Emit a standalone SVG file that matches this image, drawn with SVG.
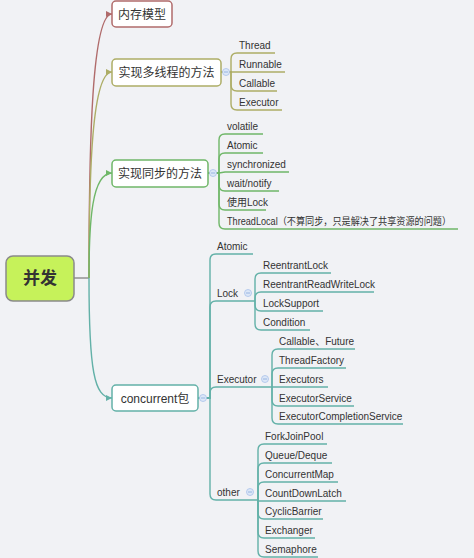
<svg xmlns="http://www.w3.org/2000/svg" width="474" height="558" viewBox="0 0 474 558">
<defs>
<style>
.bg{fill:#f1f2f5}
.t{font-family:"Liberation Sans","Noto Sans CJK SC",sans-serif;font-size:10px;fill:#333}
.nt{font-family:"Liberation Sans","Noto Sans CJK SC",sans-serif;font-size:12px;fill:#333;text-anchor:middle}
.rt{font-family:"Noto Sans CJK SC","Liberation Sans",sans-serif;font-size:17px;font-weight:bold;fill:#333;text-anchor:middle}
.box{fill:#fff;stroke-width:1.5}
.ln{fill:none;stroke-width:1.4}
.red{stroke:#b06b6b}
.olv{stroke:#adad66}
.grn{stroke:#6fb768}
.tea{stroke:#63b1a8}
.btn{fill:#dce7f7;stroke:#a9c2ea;stroke-width:0.8}
.btnm{stroke:#86a8dc;stroke-width:0.8}
</style>
<marker id="aR" viewBox="0 0 6 6" refX="6" refY="3" markerWidth="6" markerHeight="6" markerUnits="userSpaceOnUse" orient="auto"><path d="M0,0 L6,3 L0,6 z" fill="#b06b6b"/></marker>
<marker id="aO" viewBox="0 0 6 6" refX="6" refY="3" markerWidth="6" markerHeight="6" markerUnits="userSpaceOnUse" orient="auto"><path d="M0,0 L6,3 L0,6 z" fill="#adad66"/></marker>
<marker id="aG" viewBox="0 0 6 6" refX="6" refY="3" markerWidth="6" markerHeight="6" markerUnits="userSpaceOnUse" orient="auto"><path d="M0,0 L6,3 L0,6 z" fill="#6fb768"/></marker>
<marker id="aT" viewBox="0 0 6 6" refX="6" refY="3" markerWidth="6" markerHeight="6" markerUnits="userSpaceOnUse" orient="auto"><path d="M0,0 L6,3 L0,6 z" fill="#63b1a8"/></marker>
</defs>
<rect class="bg" x="0" y="0" width="474" height="558"/>

<g id="connectors">
<path class="ln" stroke="#8a8a8a" d="M74,278 H89"/>
<path class="ln red" marker-end="url(#aR)" d="M89,278 C89,140 92,14 112,14"/>
<path class="ln olv" marker-end="url(#aO)" d="M89,278 C89,170 92,72 112,72"/>
<path class="ln grn" marker-end="url(#aG)" d="M89,278 C89,220 92,173 112,173"/>
<path class="ln tea" marker-end="url(#aT)" d="M89,278 C89,370 94,398 112,398"/>

<!-- thread methods -->
<path class="ln olv" d="M221,72 H231 V59 Q231,53 237,53 H275"/>
<path class="ln olv" d="M221,72 H285"/>
<path class="ln olv" d="M221,72 H231 V85 Q231,91 237,91 H277"/>
<path class="ln olv" d="M221,72 H231 V104 Q231,110 237,110 H282"/>

<!-- sync methods -->
<path class="ln grn" d="M208,173 H219 V140 Q219,134 225,134 H263"/>
<path class="ln grn" d="M208,173 H219 V159 Q219,153 225,153 H263"/>
<path class="ln grn" d="M208,173 H219 L225,172 H289"/>
<path class="ln grn" d="M208,173 H219 V185 Q219,191 225,191 H279"/>
<path class="ln grn" d="M208,173 H219 V204 Q219,210 225,210 H266"/>
<path class="ln grn" d="M208,173 H219 V223 Q219,229 225,229 H458"/>

<!-- concurrent -->
<path class="ln tea" d="M198,398 H210 V260 Q210,254 216,254 H253"/>
<path class="ln tea" d="M198,398 H210 V307 Q210,301 216,301 H255"/>
<path class="ln tea" d="M198,398 H210 V393 Q210,387 216,387 H272"/>
<path class="ln tea" d="M198,398 H210 V494 Q210,500 216,500 H258"/>

<!-- Lock -->
<path class="ln tea" d="M255,301 V279 Q255,273 261,273 H331"/>
<path class="ln tea" d="M255,301 V298 Q255,292 261,292 H374"/>
<path class="ln tea" d="M255,301 V305 Q255,311 261,311 H323"/>
<path class="ln tea" d="M255,301 V324 Q255,330 261,330 H310"/>

<!-- Executor -->
<path class="ln tea" d="M272,387 V355 Q272,349 278,349 H355"/>
<path class="ln tea" d="M272,387 V374 Q272,368 278,368 H346"/>
<path class="ln tea" d="M272,387 H328"/>
<path class="ln tea" d="M272,387 V400 Q272,406 278,406 H354"/>
<path class="ln tea" d="M272,387 V418 Q272,424 278,424 H403"/>

<!-- other -->
<path class="ln tea" d="M258,500 V450 Q258,444 264,444 H327"/>
<path class="ln tea" d="M258,500 V469 Q258,463 264,463 H332"/>
<path class="ln tea" d="M258,500 V488 Q258,482 264,482 H338"/>
<path class="ln tea" d="M258,500 V501 H346"/>
<path class="ln tea" d="M258,500 V513 Q258,519 264,519 H323"/>
<path class="ln tea" d="M258,500 V532 Q258,538 264,538 H315"/>
<path class="ln tea" d="M258,500 V551 Q258,557 264,557 H318"/>

<!-- collapse buttons -->
<g>
<circle class="btn" cx="226" cy="72" r="3.5"/><path class="btnm" d="M224,72 H228"/>
<circle class="btn" cx="213" cy="173" r="3.5"/><path class="btnm" d="M211,173 H215"/>
<circle class="btn" cx="203" cy="398" r="3.5"/><path class="btnm" d="M201,398 H205"/>
<circle class="btn" cx="248" cy="293" r="3.5"/><path class="btnm" d="M246,293 H250"/>
<circle class="btn" cx="265" cy="379" r="3.5"/><path class="btnm" d="M263,379 H267"/>
<circle class="btn" cx="250" cy="492" r="3.5"/><path class="btnm" d="M248,492 H252"/>
</g>
</g>

<g id="root">
<rect x="6" y="256" width="68" height="45" rx="7" fill="#c6f25a" stroke="#8a8a8a" stroke-width="1.5"/>
<text class="rt" x="40" y="284">并发</text>
</g>

<g id="n-memory">
<rect class="box red" x="112" y="1" width="60" height="26" rx="4"/>
<text class="nt" x="142" y="18.5">内存模型</text>
</g>

<g id="n-thread">
<rect class="box olv" x="112" y="59" width="109" height="27" rx="4"/>
<text class="nt" x="166.5" y="77">实现多线程的方法</text>
</g>
<g id="n-thread-kids">
<text class="t" x="239" y="48.5">Thread</text>
<text class="t" x="239" y="67.5">Runnable</text>
<text class="t" x="239" y="86.5">Callable</text>
<text class="t" x="239" y="105.5">Executor</text>
</g>

<g id="n-sync">
<rect class="box grn" x="112" y="160" width="96" height="27" rx="4"/>
<text class="nt" x="160" y="178">实现同步的方法</text>
</g>
<g id="n-sync-kids">
<text class="t" x="227" y="129.5">volatile</text>
<text class="t" x="227" y="148.5">Atomic</text>
<text class="t" x="227" y="167.5">synchronized</text>
<text class="t" x="227" y="186.5">wait/notify</text>
<text class="t" x="227" y="205.5">使用Lock</text>
<text class="t" x="227" y="224.5" textLength="224" lengthAdjust="spacingAndGlyphs">ThreadLocal（不算同步，只是解决了共享资源的问题）</text>
</g>

<g id="n-concurrent">
<rect class="box tea" x="112" y="385" width="86" height="26" rx="4"/>
<text class="nt" x="155" y="402.5">concurrent包</text>
</g>
<g id="n-concurrent-kids">
<text class="t" x="217" y="249.5">Atomic</text>
<text class="t" x="217" y="296.5">Lock</text>
<text class="t" x="217" y="382.5">Executor</text>
<text class="t" x="217" y="495.5">other</text>
</g>
<g id="n-lock-kids">
<text class="t" x="263" y="268.5">ReentrantLock</text>
<text class="t" x="263" y="287.5">ReentrantReadWriteLock</text>
<text class="t" x="263" y="306.5">LockSupport</text>
<text class="t" x="263" y="325.5">Condition</text>
</g>
<g id="n-executor-kids">
<text class="t" x="279" y="344.5">Callable、Future</text>
<text class="t" x="279" y="363.5">ThreadFactory</text>
<text class="t" x="279" y="382.5">Executors</text>
<text class="t" x="279" y="401.5">ExecutorService</text>
<text class="t" x="279" y="419.5">ExecutorCompletionService</text>
</g>
<g id="n-other-kids">
<text class="t" x="265" y="439.5">ForkJoinPool</text>
<text class="t" x="265" y="458.5">Queue/Deque</text>
<text class="t" x="265" y="477.5">ConcurrentMap</text>
<text class="t" x="265" y="496.5">CountDownLatch</text>
<text class="t" x="265" y="514.5">CyclicBarrier</text>
<text class="t" x="265" y="533.5">Exchanger</text>
<text class="t" x="265" y="552.5">Semaphore</text>
</g>
</svg>
